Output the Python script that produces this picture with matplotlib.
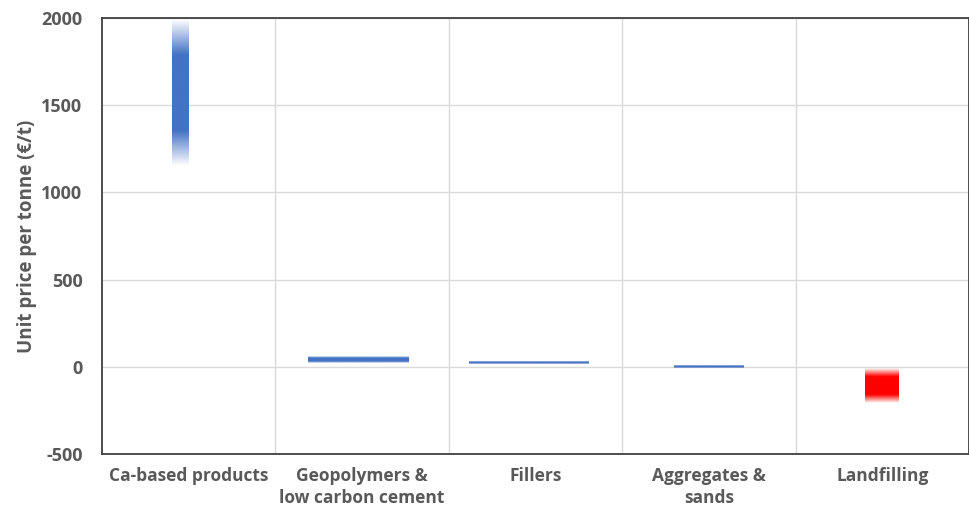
import numpy as np
import matplotlib.pyplot as plt

categories = ['Ca-based products', 'Geopolymers &\nlow carbon cement', 'Fillers',
              'Aggregates &\nsands', 'Landfilling']
low_price = [1150, 20, 16, -6, -205]
high_price = [1990, 60, 33, 11, -10]
bar_colors = ['#4472C4', '#4472C4', '#4472C4', '#4472C4', '#FF0000']

# bar placement (in category units) as drawn in the original
bar_offset = [-0.05, -0.02, -0.04, 0.0, 0.0]
bar_width = [0.096, 0.58, 0.69, 0.40, 0.196]
fade = 0.24

plt.rcParams['font.family'] = ['Open Sans', 'DejaVu Sans']
plt.rcParams['font.weight'] = 'bold'
plt.rcParams['axes.unicode_minus'] = False

fig = plt.figure(figsize=(9.7, 5.11), dpi=100)
ax = fig.add_axes([102/970, 57/511, 867/970, 436/511])

# alpha profile: transparent at both ends, solid in the middle
n = 200
t = np.linspace(0, 1, n)
alpha = np.clip(np.minimum(t, 1 - t) / fade, 0, 1)

for i in range(len(categories)):
    rgb = np.array(plt.matplotlib.colors.to_rgb(bar_colors[i]))
    img = np.zeros((n, 1, 4))
    img[:, 0, :3] = rgb
    img[:, 0, 3] = alpha
    xc = i + bar_offset[i]
    w = bar_width[i]
    ax.imshow(img, extent=(xc - w/2, xc + w/2, low_price[i], high_price[i]),
              aspect='auto', origin='lower', interpolation='bilinear', zorder=3)

ax.set_xlim(-0.5, len(categories) - 0.5)
ax.set_ylim(-500, 2000)
ax.set_yticks(np.arange(-500, 2001, 500))
ax.set_xticks(range(len(categories)))
ax.set_xticklabels(categories, linespacing=1.3)
ax.set_xticks(np.arange(0.5, len(categories) - 1, 1), minor=True)

ax.grid(axis='y', which='major', color='#D9D9D9', lw=1)
ax.grid(axis='x', which='minor', color='#D9D9D9', lw=1)
ax.set_axisbelow(True)

ax.tick_params(length=0, which='both', labelsize=12.5, labelcolor='#595959', pad=9)
ax.tick_params(axis='y', labelsize=13, pad=14)
for lbl in ax.get_xticklabels() + ax.get_yticklabels():
    lbl.set_fontweight('bold')
for s in ax.spines.values():
    s.set_color('#404040')
    s.set_linewidth(1.3)

ax.set_ylabel('Unit price per tonne (€/t)', fontsize=13.5, color='#595959',
              fontweight='bold', labelpad=3)

fig.savefig('out.png', dpi=100)
